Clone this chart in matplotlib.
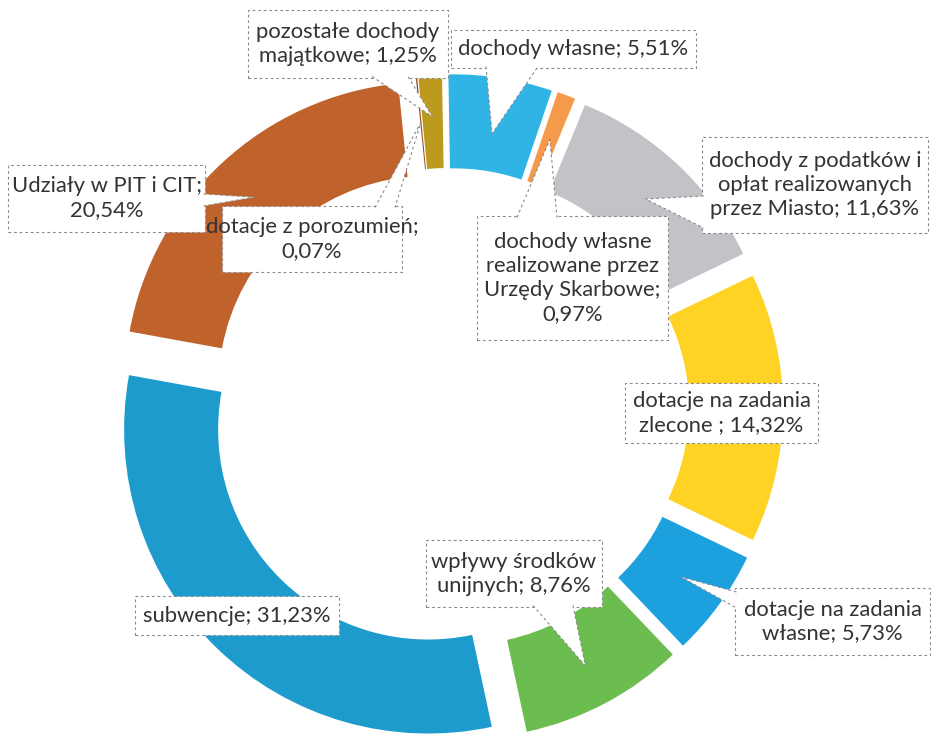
import matplotlib
matplotlib.use("Agg")
import matplotlib.pyplot as plt
import matplotlib.patches as mpatches
import numpy as np

W, H = 931, 736

# ---------------------------------------------------------------------------
# data
# ---------------------------------------------------------------------------
names = [
    "dochody własne",
    "dochody własne\nrealizowane przez\nUrzędy Skarbowe",
    "dochody z podatków i\nopłat realizowanych\nprzez Miasto",
    "dotacje na zadania\nzlecone ",
    "dotacje na zadania\nwłasne",
    "wpływy środków\nunijnych",
    "subwencje",
    "Udziały w PIT i CIT",
    "dotacje z porozumień",
    "pozostałe dochody\nmajątkowe",
]
shares = [5.51, 0.97, 11.63, 14.32, 5.73, 8.76, 31.23, 20.54, 0.07, 1.25]
seps = ["; ", ";\n", "; ", "; ", "; ", "; ", "; ", ";\n", ";\n", "; "]
colors = ["#30b4e6", "#f5994a", "#c2c3c7", "#fed324", "#1ca1de",
          "#6bbd50", "#1e9bcd", "#bf622c", "#9a4a1c", "#bc9a1e"]

# label boxes in pixels from the top-left corner: left, top, right, bottom
boxes = [
    (451, 30, 696, 68),
    (477, 216, 668, 340),
    (702, 137, 928, 233),
    (625, 383, 818, 443),
    (735, 588, 930, 655),
    (426, 540, 602, 607),
    (135, 596, 339, 635),
    (8, 165, 205, 232),
    (222, 206, 402, 272),
    (248, 10, 448, 78),
]
# callout pointer: side of box, base centre (px), base half width, tip depth in ring
pointers = [
    ("bottom", 512, 26, 0.6),
    ("top", 537, 20, 0.5),
    ("left", 212, 16, 0.5),
    None,
    ("left", 600, 8, 0.5),
    ("bottom", 553, 20, 0.45),
    None,
    ("right", 200, 6, 0.5),
    ("top", 385, 10, 0.5),
    ("bottom", 390, 18, 0.45),
]

# ---------------------------------------------------------------------------
# figure
# ---------------------------------------------------------------------------
plt.rcParams["font.family"] = ["Lato", "DejaVu Sans"]
fig = plt.figure(figsize=(W / 100, H / 100), dpi=100)
ax = fig.add_axes([0, 0, 1, 1])

R = 304
ring = 94
cx, cy = 449, H - 408

wedges, _ = ax.pie(shares, radius=R, center=(cx, cy), startangle=91,
                   counterclock=False, colors=colors,
                   explode=[30] * len(shares),
                   wedgeprops=dict(width=ring, linewidth=0))
ax.set_xlim(0, W)
ax.set_ylim(0, H)
ax.set_aspect("equal")
ax.axis("off")

ink = "#333333"
edge = "#8a8a8a"
dash = (0, (2.5, 2.5))


def flip(x, y):
    return (x, H - y)


for w, name, v, sep, box, ptr in zip(wedges, names, shares, seps, boxes, pointers):
    l, t, r, b = box
    ax.add_patch(mpatches.Rectangle(flip(l, b), r - l, b - t, fc="white",
                                    ec=edge, lw=0.8, ls=dash, zorder=3))
    if ptr is not None:
        side, pos, half, depth = ptr
        if side == "bottom":
            b1, b2 = flip(pos - half, b - 1.5), flip(pos + half, b - 1.5)
        elif side == "top":
            b1, b2 = flip(pos - half, t + 1.5), flip(pos + half, t + 1.5)
        elif side == "left":
            b1, b2 = flip(l + 1.5, pos - half), flip(l + 1.5, pos + half)
        else:
            b1, b2 = flip(r - 1.5, pos - half), flip(r - 1.5, pos + half)
        th = np.deg2rad((w.theta1 + w.theta2) / 2)
        rt = w.r - w.width * depth
        tip = (w.center[0] + rt * np.cos(th), w.center[1] + rt * np.sin(th))
        ax.add_patch(mpatches.Polygon([b1, tip, b2], closed=True, fc="white",
                                      ec="none", zorder=4))
        ax.plot([b1[0], tip[0], b2[0]], [b1[1], tip[1], b2[1]], color=edge,
                lw=0.8, ls=dash, zorder=5)
    txt = name + sep + f"{v:.2f}%".replace(".", ",")
    ax.text((l + r) / 2, H - (t + b) / 2, txt, ha="center", va="center",
            multialignment="center", fontsize=15.8, color=ink,
            linespacing=1.25, zorder=6)

fig.savefig("out.png", dpi=100, facecolor="white")
